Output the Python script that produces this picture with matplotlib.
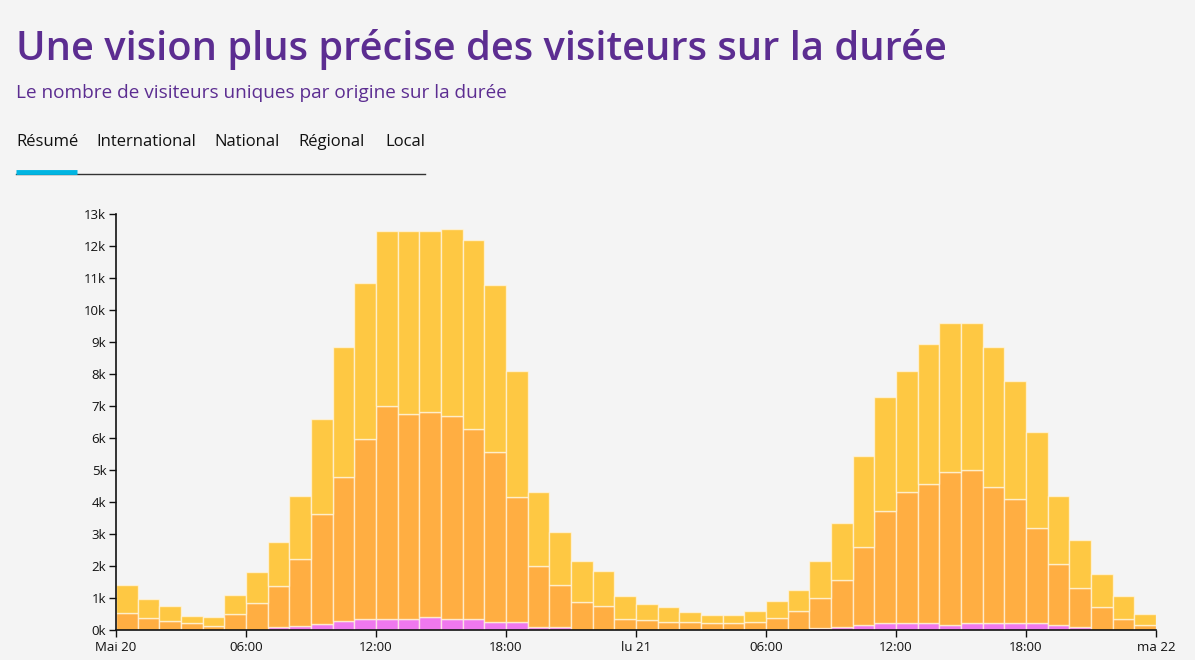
import matplotlib.pyplot as plt
import numpy as np

plt.rcParams.update({
    "font.family": ["Open Sans", "DejaVu Sans"],
})

# hourly buckets from Mai 20 00:00 to ma 22 00:00 (48 hours)
hours = np.arange(48)

# stacked segments, visitors per hour (bottom -> top)
local = [0, 0, 0, 0, 0, 0, 0, 90, 140, 200, 290, 350,
         350, 350, 400, 350, 350, 260, 260, 100, 100, 0, 0, 0,
         0, 0, 0, 0, 0, 0, 0, 0, 50, 100, 150, 210,
         210, 210, 150, 210, 210, 210, 210, 150, 100, 0, 0, 0]
regional = [540, 390, 290, 210, 140, 490, 850, 1300, 2090, 3440, 4500, 5630,
            6640, 6390, 6400, 6340, 5940, 5290, 3890, 1890, 1300, 890, 740, 350,
            300, 250, 250, 210, 210, 250, 390, 600, 950, 1450, 2450, 3520,
            4090, 4340, 4800, 4780, 4270, 3870, 2990, 1900, 1200, 710, 350, 150]
national = [870, 570, 460, 240, 260, 600, 950, 1360, 1960, 2940, 4040, 4850,
            5490, 5740, 5680, 5840, 5890, 5230, 3930, 2310, 1650, 1270, 1110, 710,
            510, 460, 300, 250, 250, 350, 520, 650, 1150, 1790, 2840, 3550,
            3790, 4390, 4630, 4590, 4350, 3700, 2990, 2140, 1500, 1040, 710, 350]

xtick_hours = [0, 6, 12, 18, 24, 30, 36, 42, 48]
xtick_labels = ["Mai 20", "06:00", "12:00", "18:00", "lu 21",
                "06:00", "12:00", "18:00", "ma 22"]
ytick_values = np.arange(0, 14000, 1000)
ytick_labels = [f"{v // 1000}k" for v in ytick_values]

tabs = ["Résumé", "International", "National", "Régional", "Local"]
tab_x = [16, 96, 214, 298, 385]

BG = "#f4f4f4"
W, H = 1195, 660

fig = plt.figure(figsize=(W / 100, H / 100), dpi=100, facecolor=BG)

# header
fig.text(16 / W, 1 - 50 / H, "Une vision plus précise des visiteurs sur la durée",
         fontsize=28.7, fontweight="semibold", color="#5c2d91", va="center", ha="left")
fig.text(16 / W, 1 - 93 / H, "Le nombre de visiteurs uniques par origine sur la durée",
         fontsize=13.7, color="#5c2d91", va="center", ha="left")
for name, x in zip(tabs, tab_x):
    fig.text(x / W, 1 - 142 / H, name, fontsize=12, color="#111111",
             va="center", ha="left")
fig.add_artist(plt.Line2D([16 / W, 425 / W], [1 - 174 / H, 1 - 174 / H],
                          color="#333333", lw=1))
fig.add_artist(plt.Line2D([16 / W, 77 / W], [1 - 172 / H, 1 - 172 / H],
                          color="#00b5e2", lw=3.5, solid_capstyle="butt"))

# chart
ax = fig.add_axes([116 / W, 1 - 630 / H, (1156 - 116) / W, (630 - 214) / H])
ax.set_facecolor(BG)

edge = (1, 0.97, 0.9, 0.7)
x = hours + 0.5
reg_bottom = np.array(local)
nat_bottom = reg_bottom + np.array(regional)
ax.bar(x, local, width=1, color="#ef78ee", edgecolor=edge, linewidth=1)
ax.bar(x, regional, width=1, bottom=reg_bottom, color="#ffae42",
       edgecolor=edge, linewidth=1)
ax.bar(x, national, width=1, bottom=nat_bottom, color="#fec843",
       edgecolor=edge, linewidth=1)

ax.set_xlim(0, 48)
ax.set_ylim(0, 13000)
ax.set_xticks(xtick_hours)
ax.set_xticklabels(xtick_labels)
ax.set_yticks(ytick_values)
ax.set_yticklabels(ytick_labels)
ax.tick_params(axis="x", length=5, width=1, labelsize=9.5, colors="#111111", pad=3)
ax.tick_params(axis="y", length=5, width=1, labelsize=9.5, colors="#111111", pad=2)
for side in ("top", "right"):
    ax.spines[side].set_visible(False)
for side in ("left", "bottom"):
    ax.spines[side].set_color("#111111")
    ax.spines[side].set_linewidth(1.2)

fig.savefig("out.png", dpi=100, facecolor=BG)
